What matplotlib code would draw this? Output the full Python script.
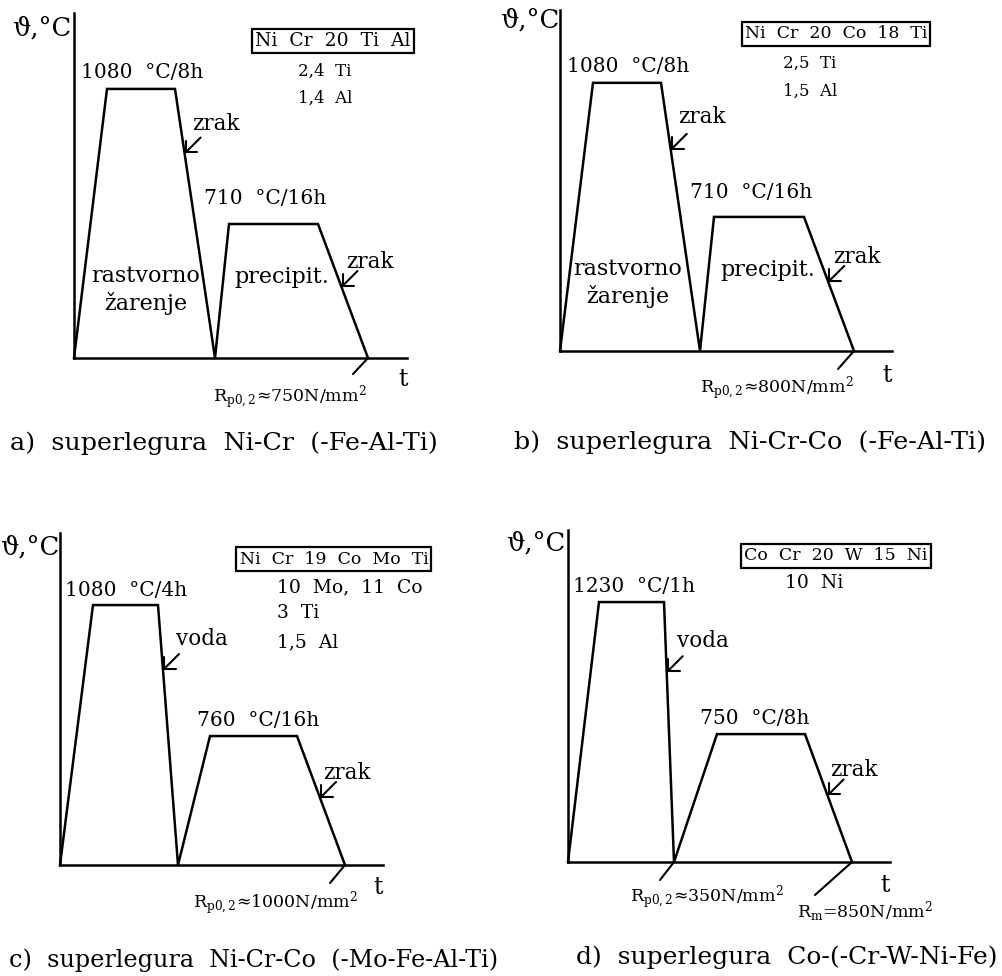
import matplotlib
matplotlib.use('Agg')
import numpy as np
import matplotlib.pyplot as plt

plt.rcParams['font.family'] = ['DejaVu Serif']
plt.rcParams['mathtext.default'] = 'regular'

# --- data -----------------------------------------------------------------
captions = ['a)  superlegura  Ni-Cr  (-Fe-Al-Ti)',
            'b)  superlegura  Ni-Cr-Co  (-Fe-Al-Ti)',
            'c)  superlegura  Ni-Cr-Co  (-Mo-Fe-Al-Ti)',
            'd)  superlegura  Co-(-Cr-W-Ni-Fe)']
alloys = ['Ni  Cr  20  Ti  Al', 'Ni  Cr  20  Co  18  Ti',
          'Ni  Cr  19  Co  Mo  Ti', 'Co  Cr  20  W  15  Ni']
compositions = [['2,4  Ti', '1,4  Al'],
                ['2,5  Ti', '1,5  Al'],
                ['10  Mo,  11  Co', '3  Ti', '1,5  Al'],
                ['10  Ni']]
hold_temps = [[1080, 710], [1080, 710], [1080, 760], [1230, 750]]
hold_times = [['8h', '16h'], ['8h', '16h'], ['4h', '16h'], ['1h', '8h']]
cooling = [['zrak', 'zrak'], ['zrak', 'zrak'], ['voda', 'zrak'], ['voda', 'zrak']]
# schematic temperature of the time axis (diagram is not to scale)
floor_temps = [343, 340, 445, 285]
# schematic time break points: heat up, hold, cool, heat up, hold, cool
profile_t = [[0, 33, 101, 141, 155, 244, 294],
             [0, 33, 101, 140, 154, 244, 294],
             [0, 33, 98, 118, 150, 237, 285],
             [0, 31, 96, 106, 149, 237, 284]]
strengths = [['R$_{p0,2}$≈750N/mm$^2$'],
             ['R$_{p0,2}$≈800N/mm$^2$'],
             ['R$_{p0,2}$≈1000N/mm$^2$'],
             ['R$_{p0,2}$≈350N/mm$^2$', 'R$_{m}$=850N/mm$^2$']]
strength_at = [[6], [6], [6], [3, 6]]
stage_labels = [['rastvorno\nžarenje', 'precipit.'],
                ['rastvorno\nžarenje', 'precipit.'],
                [None, None], [None, None]]

# --- layout (pixels of the 1003x976 picture) -------------------------------
W, H = 1003, 976
ax_box = [(74, 358, 333, 345), (560, 351, 332, 341),
          (60, 865, 323, 332), (568, 862, 322, 332)]
ytop = [1288, 1281, 1256, 1492]
ylabel_pos = [(42, 28), (530, 20), (30, 547), (536, 543)]
hold_pos = [[(142, 73), (265, 198)], [(628, 67), (751, 193)],
            [(126, 590), (258, 720)], [(634, 586), (755, 718)]]
box_pos = [(333, 41), (836, 34), (334, 559), (836, 556)]
box_size = [13.5, 12.5, 12.5, 12.5]
comp_pos = [(298, [71, 98]), (783, [63, 91]),
            (277, [587, 613, 642]), (785, [583])]
comp_size = [12, 12, 13.5, 13.5]
cool_pos = [[(216, 124), (370, 262)], [(702, 117), (857, 257)],
            [(202, 639), (347, 773)], [(703, 641), (854, 770)]]
cool_frac = [[0.24, 0.47], [0.25, 0.485], [0.25, 0.48], [0.27, 0.48]]
stage_pos = [[(146, 290), (282, 277)], [(628, 283), (768, 270)], None, None]
t_pos = [(403, 380), (887, 375), (378, 888), (885, 885)]
str_pos = [[(290, 397)], [(777, 388)], [(275, 903)], [(707, 897), (865, 912)]]
str_off = [[(-15, -16)], [(-16, -18)], [(-15, -18)], [(-14, -18), (-37, -33)]]
cap_pos = [(224, 443), (750, 442), (254, 960), (787, 957)]
cap_size = [18.3, 18.3, 17.2, 18.0]

LW = 1.8


def fpos(x, y):
    return x / W, 1 - y / H


fig = plt.figure(figsize=(W / 100, H / 100), dpi=100)

for i in range(4):
    x0, y0, w, h = ax_box[i]
    ax = fig.add_axes([x0 / W, 1 - y0 / H, w / W, h / H])
    ax.set_xlim(0, w)
    ax.set_ylim(floor_temps[i], ytop[i])
    for s in ['top', 'right']:
        ax.spines[s].set_visible(False)
    for s in ['left', 'bottom']:
        ax.spines[s].set_linewidth(LW)
    ax.set_xticks([])
    ax.set_yticks([])
    ax.patch.set_alpha(0)

    fl = floor_temps[i]
    T1, T2 = hold_temps[i]
    t = profile_t[i]
    temps = [fl, T1, T1, fl, T2, T2, fl]
    ax.plot(t, temps, color='black', lw=LW, clip_on=False,
            solid_joinstyle='miter')

    # cooling medium arrows on the two cooling segments
    for k, seg in enumerate([(2, 3), (5, 6)]):
        a, b = seg
        f = cool_frac[i][k]
        px = t[a] + f * (t[b] - t[a])
        py = temps[a] + f * (temps[b] - temps[a])
        ax.annotate('', xy=(px, py), xytext=(16, 16), textcoords='offset pixels',
                    arrowprops=dict(arrowstyle='->,head_length=0.6,head_width=0.6',
                                    lw=1.5, color='black', shrinkA=0, shrinkB=0,
                                    mutation_scale=10))
        fig.text(*fpos(*cool_pos[i][k]), cooling[i][k], ha='center',
                 va='center', fontsize=15.5)

    # strength leaders
    for k, idx in enumerate(strength_at[i]):
        ax.annotate('', xy=(t[idx], temps[idx]), xytext=str_off[i][k],
                    textcoords='offset pixels',
                    arrowprops=dict(arrowstyle='-', lw=1.5, color='black',
                                    shrinkA=0, shrinkB=0))
        fig.text(*fpos(*str_pos[i][k]), strengths[i][k], ha='center',
                 va='center', fontsize=12.5)

    fig.text(*fpos(*ylabel_pos[i]), 'ϑ,°C', ha='center', va='center',
             fontsize=18.5)
    fig.text(*fpos(*t_pos[i]), 't', ha='center', va='center', fontsize=17)

    for k in range(2):
        fig.text(*fpos(*hold_pos[i][k]),
                 f'{hold_temps[i][k]}  °C/{hold_times[i][k]}',
                 ha='center', va='center', fontsize=14.5)

    fig.text(*fpos(*box_pos[i]), alloys[i], ha='center', va='center',
             fontsize=box_size[i],
             bbox=dict(boxstyle='square,pad=0.18', fc='white', ec='black',
                       lw=1.6))
    cx, cys = comp_pos[i]
    for s, cy in zip(compositions[i], cys):
        fig.text(*fpos(cx, cy), s, ha='left', va='center',
                 fontsize=comp_size[i])

    if stage_pos[i] is not None:
        for k in range(2):
            fig.text(*fpos(*stage_pos[i][k]), stage_labels[i][k],
                     ha='center', va='center', fontsize=16, linespacing=1.25)

    fig.text(*fpos(*cap_pos[i]), captions[i], ha='center', va='center',
             fontsize=cap_size[i])

fig.savefig('out.png', dpi=100)
